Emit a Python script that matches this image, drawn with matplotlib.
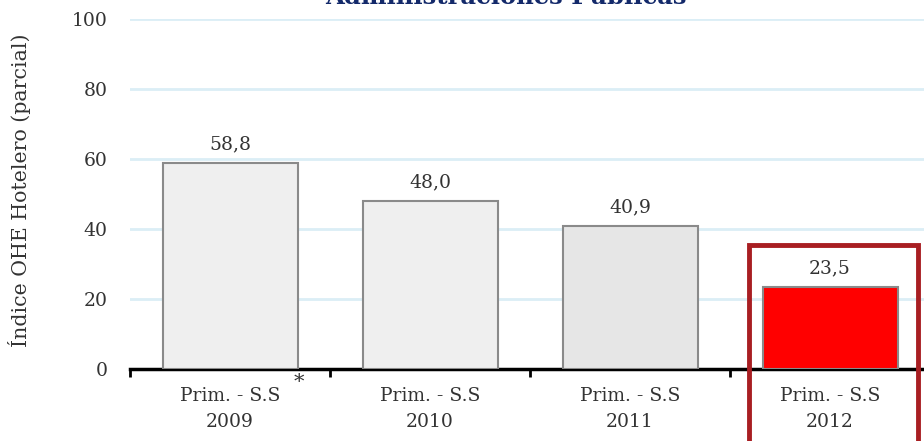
import matplotlib.pyplot as plt
from matplotlib.patches import Rectangle

# Datos del gráfico
periodos = ['Prim. - S.S\n2009', 'Prim. - S.S\n2010', 'Prim. - S.S\n2011', 'Prim. - S.S\n2012']
valores = [58.8, 48.0, 40.9, 23.5]
etiquetas = ['58,8', '48,0', '40,9', '23,5']
colores = ['#efefef', '#efefef', '#e6e6e6', '#ff0000']

plt.rcParams['font.family'] = ['DejaVu Serif']

fig = plt.figure(figsize=(9.24, 4.41), dpi=100)
ax = fig.add_axes([130 / 924, 1 - 369 / 441, 800 / 924, 350 / 441])

x = list(range(len(valores)))
ax.bar(x, valores, width=0.675, color=colores, edgecolor='#8a8a8a', linewidth=1.5, zorder=3)

for xi, v, t in zip(x, valores, etiquetas):
    ax.annotate(t, (xi, v), xytext=(0, 7), textcoords='offset points',
                ha='center', va='bottom', fontsize=13.5, color='#333333')

ax.set_xlim(-0.5, 3.5)
ax.set_ylim(0, 100)
ax.set_yticks([0, 20, 40, 60, 80, 100])
ax.yaxis.grid(True, color='#dbeef6', linewidth=2)
ax.set_axisbelow(True)

ax.set_xticks(x)
ax.set_xticklabels(periodos, fontsize=13.5, color='#333333', linespacing=1.55)
ax.set_xticks([-0.5, 0.5, 1.5, 2.5, 3.5], minor=True)
ax.tick_params(axis='x', which='major', length=0, pad=13)
ax.tick_params(axis='x', which='minor', length=6, width=2, direction='out')
ax.tick_params(axis='y', length=0, labelsize=13.5, labelcolor='#333333', pad=16)

for s in ['top', 'right', 'left']:
    ax.spines[s].set_visible(False)
ax.spines['bottom'].set_linewidth(2.5)
ax.spines['bottom'].set_color('black')

ax.set_ylabel('Índice OHE Hotelero (parcial)', fontsize=14.8, color='#333333')
ax.yaxis.set_label_coords(-99 / 800, 0.51)

# Asterisco junto a la primera categoría
ax.text(0.345, -1.0, '*', ha='center', va='top', fontsize=15, color='#333333', clip_on=False)

# Recuadro destacando 2012
ax.add_patch(Rectangle((2.595, -40), 0.845, 75.5, fill=False, edgecolor='#a81e22',
                       linewidth=3.5, clip_on=False, zorder=5))

fig.text(506 / 924, 1 - 3.5 / 441, 'Administraciones Públicas', ha='center', va='baseline',
         fontsize=17.5, fontweight='bold', color='#13296a')

fig.savefig('out.png', dpi=100)
